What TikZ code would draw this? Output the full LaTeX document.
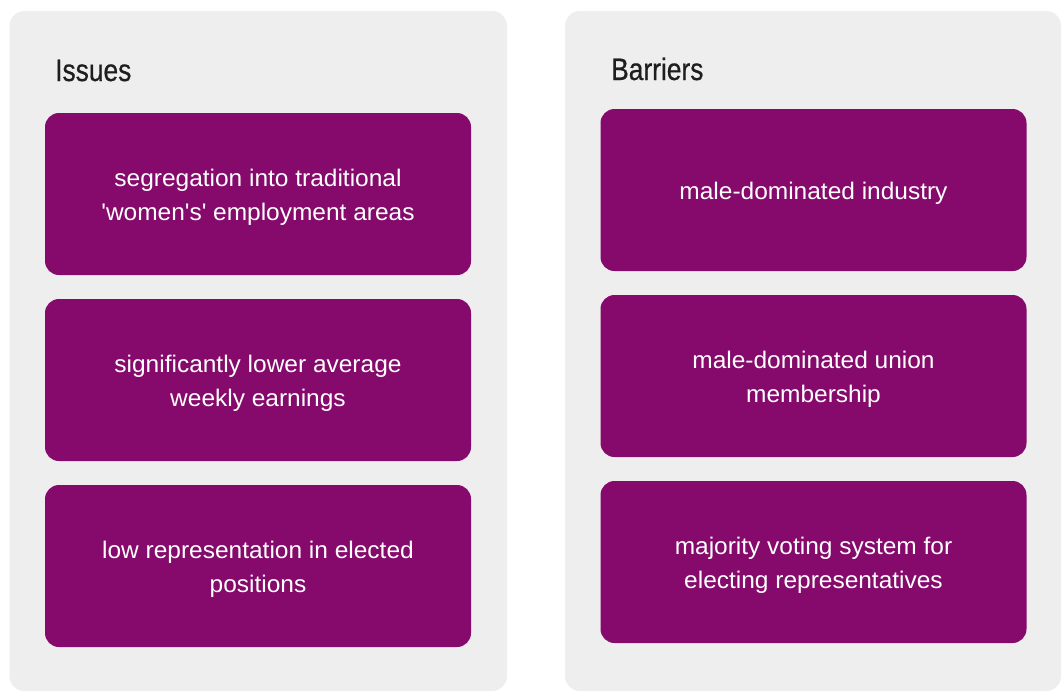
\documentclass[tikz,border=0pt]{standalone}
\usepackage{fontspec}
\setmainfont{Liberation Sans}[FakeStretch=1.02]
\newfontfamily\titlefont{Liberation Sans}[FakeStretch=0.85,FakeBold=0.6]
\definecolor{panelgray}{HTML}{EEEEEE}
\definecolor{boxpurple}{RGB}{133,10,108}
\definecolor{titlegray}{HTML}{1E1E1E}
\begin{document}
\begin{tikzpicture}[x=1pt,y=-1pt,
  panel/.style={fill=panelgray, rounded corners=15pt, inner sep=0pt, outer sep=0pt, minimum height=680pt},
  ibox/.style={fill=boxpurple, rounded corners=14pt, inner sep=0pt, outer sep=0pt, minimum width=426pt, minimum height=162pt},
  ptitle/.style={anchor=base west, text=titlegray, font=\titlefont\fontsize{31}{36}\selectfont, inner sep=0pt},
  btext/.style={text=white, align=center, font=\fontsize{24}{34}\selectfont, inner sep=0pt}]
\useasboundingbox (0,0) rectangle (1064,691);
% panels
\node[panel, minimum width=497.5pt] (p1) at (258.25,351) {};
\node[panel, minimum width=496pt] (p2) at (813,351) {};
% titles
\node[ptitle] (t1) at (55,81) {Issues};
\node[ptitle] (t2) at (611,80) {Barriers};
% left boxes
\node[ibox] (b1) at (258,194) {};
\node[ibox] (b2) at (258,380) {};
\node[ibox] (b3) at (258,566) {};
% right boxes
\node[ibox] (c1) at (813.5,190) {};
\node[ibox] (c2) at (813.5,376) {};
\node[ibox] (c3) at (813.5,562) {};
% texts
\node[btext] (tb1) at ([yshift=-3.5pt]b1.center) {segregation into traditional\\\textquotesingle women\textquotesingle s\textquotesingle{} employment areas};
\node[btext] (tb2) at ([yshift=-3.5pt]b2.center) {significantly lower average\\weekly earnings};
\node[btext] (tb3) at ([yshift=-3.5pt]b3.center) {low representation in elected\\positions};
\node[btext] (tc1) at ([yshift=-3pt]c1.center) {male-dominated industry};
\node[btext] (tc2) at ([yshift=-3.5pt]c2.center) {male-dominated union\\membership};
\node[btext] (tc3) at ([yshift=-3.5pt]c3.center) {majority voting system for\\electing representatives};
\end{tikzpicture}
\end{document}
